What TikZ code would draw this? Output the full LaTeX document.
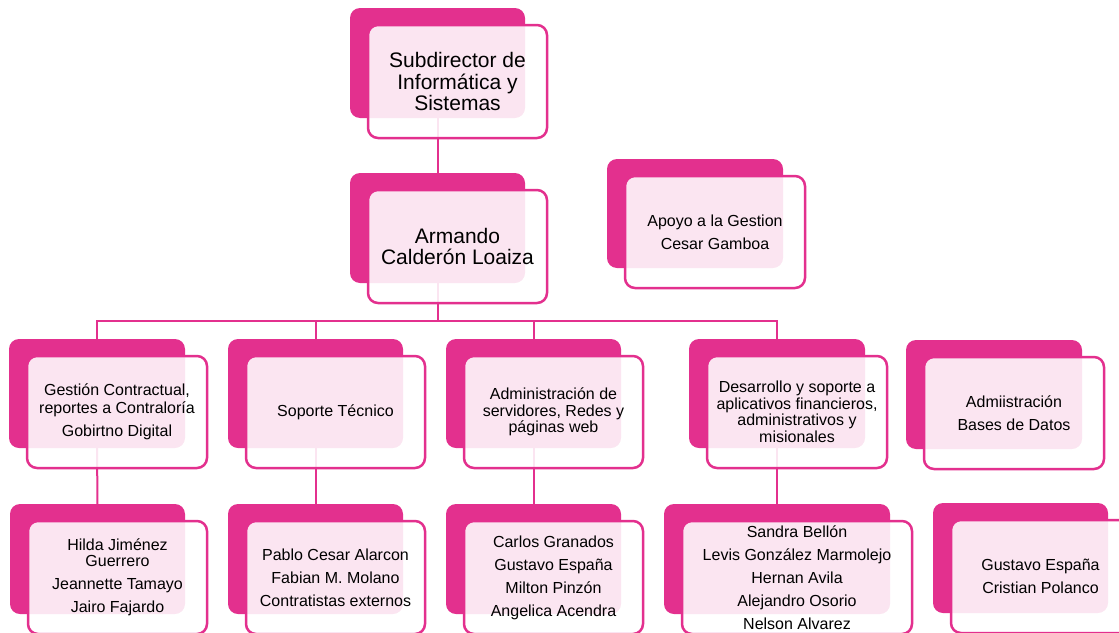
\documentclass[tikz,border=0pt]{standalone}
\usepackage{fontspec}
\setmainfont{Liberation Sans}
\usetikzlibrary{calc,backgrounds}
\definecolor{mag}{RGB}{227,48,142}
\newcommand{\fbig}{\fontsize{21}{21.5}\selectfont}
\newcommand{\fsmall}{\fontsize{16}{16.5}\selectfont}
\tikzset{
  backbox/.style={fill=mag, draw=none, rounded corners=10pt, inner sep=0pt, outer sep=0pt},
  frontbox/.style={fill=white, fill opacity=0.88, text opacity=1, draw=mag, line width=2.5pt,
    rounded corners=10pt, inner sep=0pt, outer sep=0pt, align=center, text=black},
  conn/.style={draw=mag, line width=2pt},
}
% #1 name, #2 x, #3 y, #4 back width, #5 back height, #6 font, #7 text
\newcommand{\orgbox}[7]{%
  \node[backbox, minimum width=#4pt, minimum height=#5pt, anchor=north west] (#1back) at (#2,#3) {};
  \node[frontbox, font=#6, minimum width=#4pt+4pt, minimum height=#5pt+3pt, anchor=north west]
    (#1) at ($(#1back.north west)+(18,17)$) {#7};
}
\begin{document}
\begin{tikzpicture}[x=1pt,y=-1pt]
\useasboundingbox (0,0) rectangle (1119,632);
\orgbox{top}{350}{8}{175}{110}{\fbig}{Subdirector de\\Informática y\\Sistemas}
\orgbox{arm}{350}{173}{175}{110}{\fbig}{Armando\\Calderón Loaiza}
\orgbox{apo}{607}{159}{176}{109}{\fsmall}{Apoyo a la Gestion\\[6.5pt]Cesar Gamboa}
\orgbox{ga}{9}{339}{176}{109}{\fsmall}{Gestión Contractual,\\[1.5pt]reportes a Contraloría\\[6.5pt]Gobirtno Digital}
\orgbox{gb}{228}{339}{175}{109}{\fsmall}{Soporte Técnico}
\orgbox{gc}{446}{339}{175}{109}{\fsmall}{Administración de\\servidores, Redes y\\páginas web}
\orgbox{gd}{689}{339}{176}{109}{\fsmall}{Desarrollo y soporte a\\aplicativos financieros,\\administrativos y\\misionales}
\orgbox{ge}{906}{340}{176}{109}{\fsmall}{Admiistración\\[6pt]Bases de Datos}
\orgbox{pa}{10}{504}{175}{110}{\fsmall}{Hilda Jiménez\\Guerrero\\[6.5pt]Jeannette Tamayo\\[6.5pt]Jairo Fajardo}
\orgbox{pb}{228}{504}{175}{110}{\fsmall}{Pablo Cesar Alarcon\\[6.5pt]Fabian M. Molano\\[6.5pt]Contratistas externos}
\orgbox{pc}{446}{504}{175}{110}{\fsmall}{Carlos Granados\\[6.5pt]Gustavo España\\[6.5pt]Milton Pinzón\\[6.5pt]Angelica Acendra}
\orgbox{pd}{664}{504}{226}{110}{\fsmall}{Sandra Bellón\\[6.5pt]Levis González Marmolejo\\[6.5pt]Hernan Avila\\[6.5pt]Alejandro Osorio\\[6.5pt]Nelson Alvarez}
\orgbox{pe}{933}{503}{175}{110}{\fsmall}{Gustavo España\\[6.5pt]Cristian Polanco}
\coordinate (bar) at (0,321);
\begin{scope}[on background layer]
\draw[conn] (topback.center) -- (armback.center);
\draw[conn] (armback.center) -- (armback.center |- bar);
\draw[conn] (gaback.center) -- (gaback.center |- bar) -- (gdback.center |- bar) -- (gdback.center);
\draw[conn] (gbback.center) -- (gbback.center |- bar);
\draw[conn] (gcback.center) -- (gcback.center |- bar);
\draw[conn] (gaback.center) -- (paback.center);
\draw[conn] (gbback.center) -- (pbback.center);
\draw[conn] (gcback.center) -- (pcback.center);
\draw[conn] (gdback.center) -- (pdback.center);
\end{scope}
\end{tikzpicture}
\end{document}
